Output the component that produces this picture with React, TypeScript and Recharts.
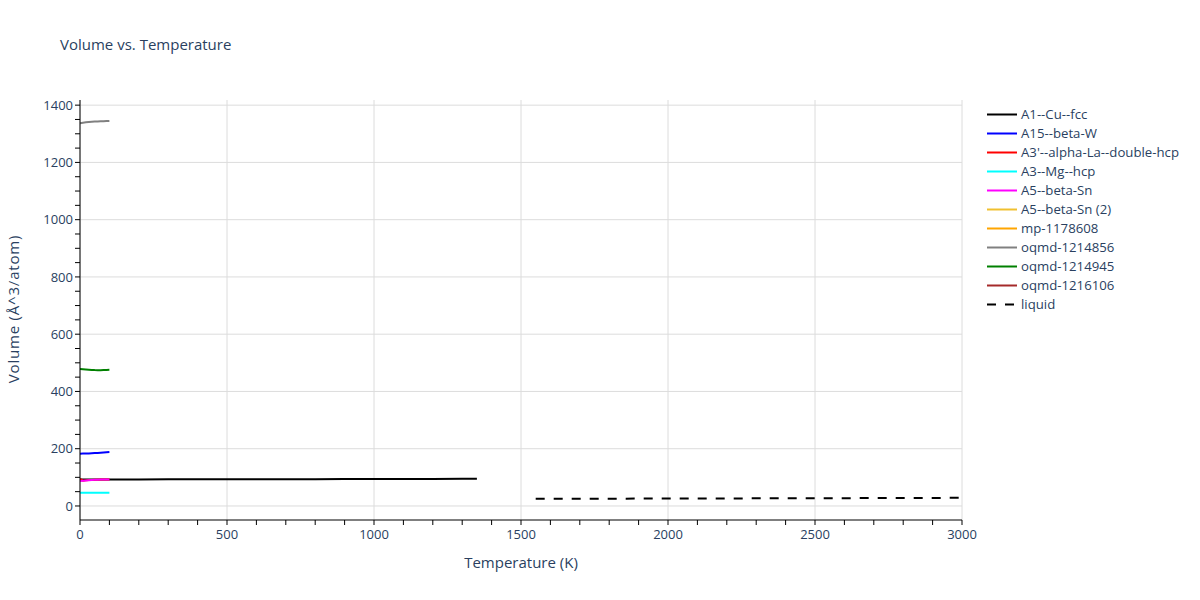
import React from "react";
import { LineChart, Line, XAxis, YAxis, CartesianGrid } from "recharts";

const lowTemps = [0, 10, 20, 30, 40, 50, 60, 70, 80, 90, 100];
const cuTemps = [0, 100, 200, 300, 400, 500, 600, 700, 800, 900, 1000, 1100, 1200, 1300, 1350];
const cuVolumes = [92.7, 92.7, 92.8, 92.9, 93.0, 93.1, 93.3, 93.4, 93.6, 93.8, 94.0, 94.2, 94.5, 94.7, 94.9];
const betaWVolumes = [182.7, 182.9, 183.2, 183.6, 184.1, 184.7, 185.3, 186.0, 186.7, 187.5, 188.3];
const laVolumes = [95.0, 88.3, 89.4, 90.3, 91.0, 91.5, 91.9, 92.2, 92.4, 92.6, 92.7];
const mgVolumes = [46.0, 46.0, 46.0, 46.0, 46.1, 46.1, 46.1, 46.2, 46.2, 46.3, 46.3];
const snVolumes = [87.0, 88.2, 89.3, 90.2, 90.9, 91.4, 91.8, 92.1, 92.4, 92.6, 92.7];
const oqmd856Volumes = [1337.0, 1338.7, 1340.0, 1341.0, 1341.8, 1342.5, 1343.1, 1343.6, 1344.1, 1344.6, 1345.0];
const oqmd945Volumes = [478.0, 477.2, 476.4, 475.7, 475.1, 474.6, 474.4, 474.4, 474.6, 475.0, 475.5];
const liquidTemps = [1550, 1700, 1850, 2000, 2150, 2300, 2450, 2600, 2750, 2900, 3000];
const liquidVolumes = [25.0, 25.3, 25.6, 25.9, 26.2, 26.6, 26.9, 27.3, 27.7, 28.1, 28.5];

const xTicks = [0, 100, 200, 300, 400, 500, 600, 700, 800, 900, 1000, 1100, 1200, 1300, 1400, 1500, 1600, 1700, 1800, 1900, 2000, 2100, 2200, 2300, 2400, 2500, 2600, 2700, 2800, 2900, 3000];
const xMajor = [0, 500, 1000, 1500, 2000, 2500, 3000];
const yTicks = [0, 50, 100, 150, 200, 250, 300, 350, 400, 450, 500, 550, 600, 650, 700, 750, 800, 850, 900, 950, 1000, 1050, 1100, 1150, 1200, 1250, 1300, 1350, 1400];
const yMajor = [0, 200, 400, 600, 800, 1000, 1200, 1400];

const zip = (ts: number[], vs: number[]) => ts.map((t, i) => ({ t, v: vs[i] }));

type S = { name: string; color: string; data: { t: number; v: number }[]; dash?: string };
const series: S[] = [
  { name: "A1--Cu--fcc", color: "#000000", data: zip(cuTemps, cuVolumes) },
  { name: "A15--beta-W", color: "#0000ff", data: zip(lowTemps, betaWVolumes) },
  { name: "A3'--alpha-La--double-hcp", color: "#ff0000", data: zip(lowTemps, laVolumes) },
  { name: "A3--Mg--hcp", color: "#00ffff", data: zip(lowTemps, mgVolumes) },
  { name: "A5--beta-Sn", color: "#ff00ff", data: zip(lowTemps, snVolumes) },
  { name: "A5--beta-Sn (2)", color: "#f0c030", data: [] },
  { name: "mp-1178608", color: "#ffa500", data: [] },
  { name: "oqmd-1214856", color: "#808080", data: zip(lowTemps, oqmd856Volumes) },
  { name: "oqmd-1214945", color: "#008000", data: zip(lowTemps, oqmd945Volumes) },
  { name: "oqmd-1216106", color: "#a52a2a", data: [] },
  { name: "liquid", color: "#000000", data: zip(liquidTemps, liquidVolumes), dash: "9 9" },
];

const FONT = '"Open Sans", verdana, arial, sans-serif';
const TXT = "#2a3f5f";

const renderXTick = (props: any) => {
  const { x, y, payload } = props;
  if (!xMajor.includes(payload.value)) return <g />;
  return (
    <text x={x} y={y} dy="0.71em" textAnchor="middle" fill={TXT} fontSize={13} fontFamily={FONT}>
      {payload.value}
    </text>
  );
};
const renderYTick = (props: any) => {
  const { x, y, payload } = props;
  if (!yMajor.includes(payload.value)) return <g />;
  return (
    <text x={x} y={y} dy="0.355em" textAnchor="end" fill={TXT} fontSize={13} fontFamily={FONT}>
      {payload.value}
    </text>
  );
};

export default function App() {
  return (
    <div style={{ position: "absolute", left: 0, top: 0, width: 1200, height: 600, background: "#fff", fontFamily: FONT }}>
      <LineChart width={1200} height={600} margin={{ top: 100, right: 238, bottom: 50, left: 20 }}>
        <CartesianGrid stroke="#dcdcdc" strokeWidth={1} horizontalValues={yMajor} verticalValues={xMajor} />
        <XAxis
          type="number"
          dataKey="t"
          domain={[0, 3000]}
          ticks={xTicks}
          interval={0}
          allowDataOverflow
          height={30}
          tickSize={5}
          tickMargin={5}
          tickLine={{ stroke: "#000" }}
          axisLine={{ stroke: "#000" }}
          stroke="#000"
          tick={renderXTick}
        />
        <YAxis
          type="number"
          dataKey="v"
          domain={[-49, 1418]}
          ticks={yTicks}
          interval={0}
          allowDataOverflow
          width={60}
          tickSize={5}
          tickMargin={2}
          tickLine={{ stroke: "#000" }}
          axisLine={{ stroke: "#000" }}
          stroke="#000"
          tick={renderYTick}
        />
        {series.map((s) => (
          <Line
            key={s.name}
            data={s.data}
            dataKey="v"
            name={s.name}
            type="linear"
            stroke={s.color}
            strokeWidth={2}
            strokeDasharray={s.dash}
            dot={false}
            activeDot={false}
            isAnimationActive={false}
          />
        ))}
      </LineChart>
      <div style={{ position: "absolute", left: 60, top: 34, fontSize: 15, color: TXT, whiteSpace: "nowrap" }}>
        Volume vs. Temperature
      </div>
      <div style={{ position: "absolute", left: 0, top: 552, width: 1042, textAlign: "center", fontSize: 15, color: TXT }}>
        Temperature (K)
      </div>
      <div
        style={{
          position: "absolute",
          left: 13,
          top: 309,
          fontSize: 15,
          letterSpacing: 0.8,
          color: TXT,
          whiteSpace: "nowrap",
          transform: "translate(-50%, -50%) rotate(-90deg)",
        }}
      >
        Volume (Å^3/atom)
      </div>
      <div style={{ position: "absolute", left: 985, top: 104.5 }}>
        {series.map((s) => (
          <div key={s.name} style={{ height: 19, display: "flex", alignItems: "center", whiteSpace: "nowrap" }}>
            <svg width={36} height={19}>
              <line x1={2} y1={9.5} x2={32} y2={9.5} stroke={s.color} strokeWidth={2} strokeDasharray={s.dash ? "9 9" : undefined} />
            </svg>
            <span style={{ fontSize: 13.2, color: TXT }}>{s.name}</span>
          </div>
        ))}
      </div>
    </div>
  );
}
